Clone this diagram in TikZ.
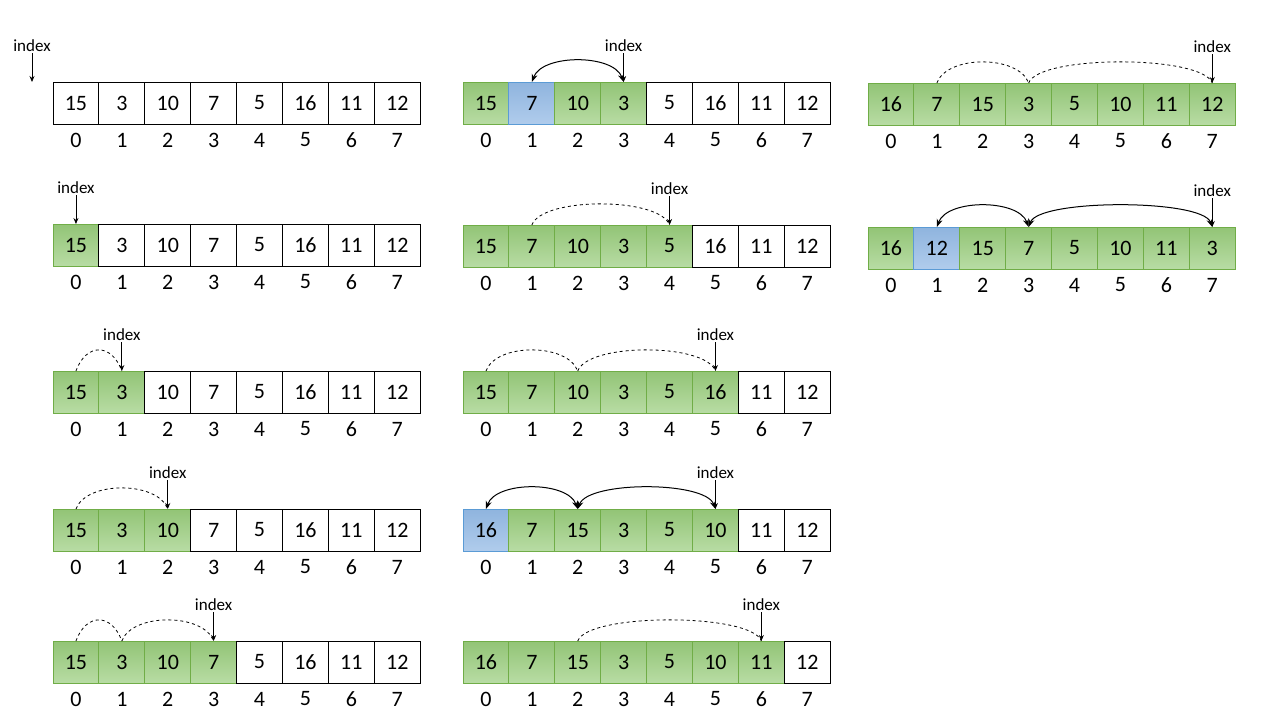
\documentclass[tikz,border=0pt]{standalone}
\usepackage{fontspec}
\setmainfont{Carlito}
\usetikzlibrary{positioning,arrows.meta}
\definecolor{gtop}{RGB}{146,196,118}
\definecolor{gbot}{RGB}{184,220,164}
\definecolor{gline}{RGB}{112,173,71}
\definecolor{btop}{RGB}{143,180,222}
\definecolor{bbot}{RGB}{176,204,236}
\definecolor{bline}{RGB}{91,155,213}
\definecolor{swap}{RGB}{237,125,49}
\tikzset{
	cell/.style={draw, line width=1pt, minimum width=45.9pt, minimum height=42pt, inner sep=0pt, outer sep=0pt, font=\fontsize{22}{24}\selectfont},
	w/.style={fill=white},
	g/.style={draw=gline, top color=gtop, bottom color=gbot},
	b/.style={draw=bline, top color=btop, bottom color=bbot},
	num/.style={font=\fontsize{22}{24}\selectfont},
	idxtext/.style={font=\fontsize{17}{19}\selectfont, inner sep=1pt},
	ptr/.style={-{Stealth[length=6pt,width=5pt]}, line width=0.8pt},
	hop/.style={swap, dashed, line width=0.8pt, out=70, in=110, distance=30pt},
	swp/.style={swap, line width=1pt, {Stealth[length=8pt,width=6pt]}-{Stealth[length=8pt,width=6pt]}, out=70, in=110, distance=30pt}
}
% one array: name, left x, top y, cells
\newcommand\cellrow[4]{%
	\foreach \v/\s [count=\i from 0] in {#4} {
		\node[cell,\s] (#1-\i) at ({#2+\i*45.9+22.95},{-#3-21}) {\v};
		\node[num] (#1-n\i) at ({#2+\i*45.9+22.95},{-#3-58}) {\i};
	}}
% index pointer above a node
\newcommand\pointer[2]{%
	\node[idxtext, above=29pt of #2] (#1) {index};
	\draw[ptr] (#1) -- (#2);}
\begin{document}
\begin{tikzpicture}[x=1pt,y=1pt]
	\useasboundingbox (0,0) rectangle (1280,-720);
	
	% left column
	\cellrow{a}{53}{82}{15/w,3/w,10/w,7/w,5/w,16/w,11/w,12/w}
	\coordinate (a-m) at (32,-82);
	\pointer{a-i}{a-m}
	\cellrow{b}{53}{224}{15/g,3/w,10/w,7/w,5/w,16/w,11/w,12/w}
	\pointer{b-i}{b-0}
	\cellrow{c}{53}{371}{15/g,3/g,10/w,7/w,5/w,16/w,11/w,12/w}
	\pointer{c-i}{c-1}
	\draw[hop] (c-0.north) to (c-1.north);
	\cellrow{d}{53}{509}{15/g,3/g,10/g,7/w,5/w,16/w,11/w,12/w}
	\pointer{d-i}{d-2}
	\draw[hop] (d-0.north) to (d-2.north);
	\cellrow{e}{53}{641}{15/g,3/g,10/g,7/g,5/w,16/w,11/w,12/w}
	\pointer{e-i}{e-3}
	\draw[hop] (e-0.north) to (e-1.north);
	\draw[hop] (e-1.north) to (e-3.north);
	
	% middle column
	\cellrow{f}{463}{82}{15/g,7/b,10/g,3/g,5/w,16/w,11/w,12/w}
	\pointer{f-i}{f-3}
	\draw[swp] (f-1.north) to (f-3.north);
	\cellrow{h}{463}{225}{15/g,7/g,10/g,3/g,5/g,16/w,11/w,12/w}
	\pointer{h-i}{h-4}
	\draw[hop] (h-1.north) to (h-4.north);
	\cellrow{k}{463}{371}{15/g,7/g,10/g,3/g,5/g,16/g,11/w,12/w}
	\pointer{k-i}{k-5}
	\draw[hop] (k-0.north) to (k-2.north);
	\draw[hop] (k-2.north) to (k-5.north);
	\cellrow{l}{463}{509}{16/b,7/g,15/g,3/g,5/g,10/g,11/w,12/w}
	\pointer{l-i}{l-5}
	\draw[swp] (l-0.north) to (l-2.north);
	\draw[swp] (l-2.north) to (l-5.north);
	\cellrow{m}{463}{641}{16/g,7/g,15/g,3/g,5/g,10/g,11/g,12/w}
	\pointer{m-i}{m-6}
	\draw[hop] (m-2.north) to (m-6.north);
	
	% right column
	\cellrow{p}{868}{83}{16/g,7/g,15/g,3/g,5/g,10/g,11/g,12/g}
	\pointer{p-i}{p-7}
	\draw[hop] (p-1.north) to (p-3.north);
	\draw[hop] (p-3.north) to (p-7.north);
	\cellrow{q}{868}{227}{16/g,12/b,15/g,7/g,5/g,10/g,11/g,3/g}
	\pointer{q-i}{q-7}
	\draw[swp] (q-1.north) to (q-3.north);
	\draw[swp] (q-3.north) to (q-7.north);
	
\end{tikzpicture}
\end{document}
